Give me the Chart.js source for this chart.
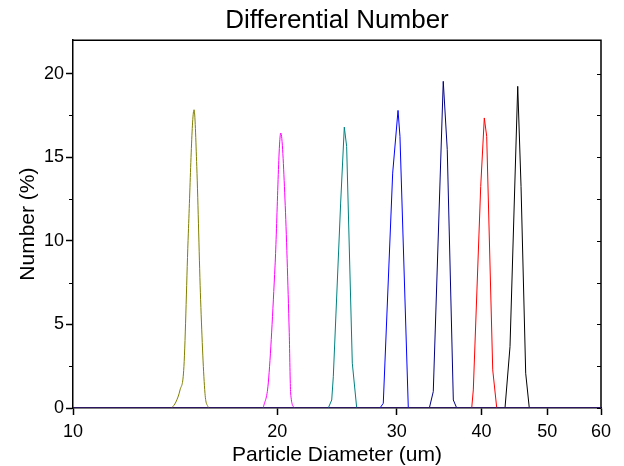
<!DOCTYPE html>
<html>
<head>
<meta charset="utf-8">
<script src="https://cdn.jsdelivr.net/npm/chart.js@4"></script>
<style>
  html, body { margin: 0; padding: 0; background: #fff; }
</style>
</head>
<body>
<canvas id="chart" width="624" height="466"></canvas>
<script>
// ------------------------------------------------------------------
// Data
// ------------------------------------------------------------------
const X_TICKS = [10, 20, 30, 40, 50, 60];
const Y_TICKS = [0, 5, 10, 15, 20];
const Y_MINOR = [2.5, 7.5, 12.5, 17.5];

const base_d = [10, 60];
const base_n = [0, 0];

const olive_d = [13.98, 14.18, 14.38, 14.57, 14.79, 15.08, 15.22, 15.42, 15.65, 15.83];
const olive_n = [0, 0.36, 1.08, 2.47, 10.46, 17.84, 14.45, 6.47, 0.88, 0];

const magenta_d = [19.07, 19.40, 19.85, 20.24, 20.53, 20.83, 20.93, 21.19];
const magenta_n = [0, 1.5, 8.5, 16.45, 12.5, 4.5, 0.9, 0];

const teal_d = [23.78, 24.06, 24.19, 24.80, 25.11, 25.31, 25.80, 26.19];
const teal_n = [0, 0.48, 1.87, 12.26, 16.8, 15.65, 2.68, 0];

const blue_d = [28.34, 28.66, 29.59, 30.13, 30.33, 31.20];
const blue_n = [0, 0.28, 14.05, 17.8, 16.25, 0];

const navy_d = [33.51, 33.96, 35.13, 35.61, 36.35, 36.77];
const navy_n = [0, 0.98, 19.54, 15.45, 0.48, 0];

const red_d = [38.69, 38.90, 39.89, 40.38, 40.71, 41.55, 42.12];
const red_n = [0, 1.08, 13.25, 17.35, 16.25, 2.28, 0];

const black_d = [43.32, 44.06, 45.23, 45.74, 46.47, 47.04];
const black_n = [0, 3.67, 19.24, 13.25, 2.08, 0];

const FONT = "'Liberation Sans', Arial, sans-serif";

function to_points(xs, ys) {
    return xs.map((x, i) => ({ x, y: ys[i] }));
}

function make_series(xs, ys, color, smooth) {
    return {
        data: to_points(xs, ys),
        borderColor: color,
        borderWidth: 1,
        pointRadius: 0,
        tension: 0,
        cubicInterpolationMode: smooth ? 'monotone' : 'default',
        fill: false,
    };
}

// frame top/right, minor ticks on the left, inside ticks on the right
const frame_plugin = {
    id: 'frame',
    beforeDatasetsDraw(chart) {
        const { ctx, chartArea: a, scales } = chart;
        const y = scales.y;
        ctx.save();
        ctx.strokeStyle = '#000';
        ctx.lineWidth = 1.5;
        ctx.beginPath();
        ctx.moveTo(a.left, a.top);
        ctx.lineTo(a.right, a.top);
        ctx.lineTo(a.right, a.bottom);
        ctx.stroke();
        ctx.lineWidth = 1;
        ctx.beginPath();
        Y_MINOR.forEach(v => {
            const py = Math.round(y.getPixelForValue(v)) + 0.5;
            ctx.moveTo(a.left - 4, py);
            ctx.lineTo(a.left, py);
        });
        [...Y_TICKS, ...Y_MINOR].forEach(v => {
            const py = Math.round(y.getPixelForValue(v)) + 0.5;
            ctx.moveTo(a.right - 4, py);
            ctx.lineTo(a.right, py);
        });
        ctx.stroke();
        ctx.restore();
    },
};

new Chart(document.getElementById('chart'), {
    type: 'line',
    data: {
        datasets: [
            Object.assign(make_series(base_d, base_n, '#3a1c80', false), { borderWidth: 1.5 }),
            make_series(olive_d, olive_n, '#808000', true),
            make_series(magenta_d, magenta_n, '#ff00ff', true),
            make_series(teal_d, teal_n, '#008080', false),
            make_series(blue_d, blue_n, '#0000ff', false),
            make_series(navy_d, navy_n, '#000080', false),
            make_series(red_d, red_n, '#ff0000', false),
            make_series(black_d, black_n, '#000000', false),
        ],
    },
    options: {
        responsive: false,
        animation: false,
        layout: { padding: { left: 0, right: 23, top: 0, bottom: 0 } },
        scales: {
            x: {
                type: 'logarithmic',
                min: 10,
                max: 60,
                afterBuildTicks: s => { s.ticks = X_TICKS.map(v => ({ value: v })); },
                afterFit: s => { s.height = 58; },
                ticks: {
                    color: '#000',
                    padding: 6,
                    maxRotation: 0,
                    autoSkip: false,
                    font: { family: FONT, size: 18 },
                    callback: v => String(v),
                },
                grid: { drawOnChartArea: false, tickLength: 7, tickColor: '#000', tickWidth: 1.5 },
                border: { color: '#000', width: 1.5 },
                title: {
                    display: true,
                    text: 'Particle Diameter (um)',
                    color: '#000',
                    padding: { top: 0, bottom: 0 },
                    font: { family: FONT, size: 21, lineHeight: 1 },
                },
            },
            y: {
                min: 0,
                max: 22,
                afterBuildTicks: s => { s.ticks = Y_TICKS.map(v => ({ value: v })); },
                afterFit: s => { s.width = 73; },
                ticks: {
                    color: '#000',
                    padding: 2,
                    font: { family: FONT, size: 18 },
                },
                grid: { drawOnChartArea: false, tickLength: 7, tickColor: '#000', tickWidth: 1.5 },
                border: { color: '#000', width: 1.5 },
                title: {
                    display: true,
                    text: 'Number (%)',
                    color: '#000',
                    padding: { top: 16, bottom: 0 },
                    font: { family: FONT, size: 21 },
                },
            },
        },
        plugins: {
            legend: { display: false },
            tooltip: { enabled: false },
            title: {
                display: true,
                text: 'Differential Number',
                color: '#000',
                fullSize: false,
                padding: { top: 5, bottom: 4 },
                font: { family: FONT, size: 26, weight: 'normal' },
            },
        },
    },
    plugins: [frame_plugin],
});
</script>
</body>
</html>
